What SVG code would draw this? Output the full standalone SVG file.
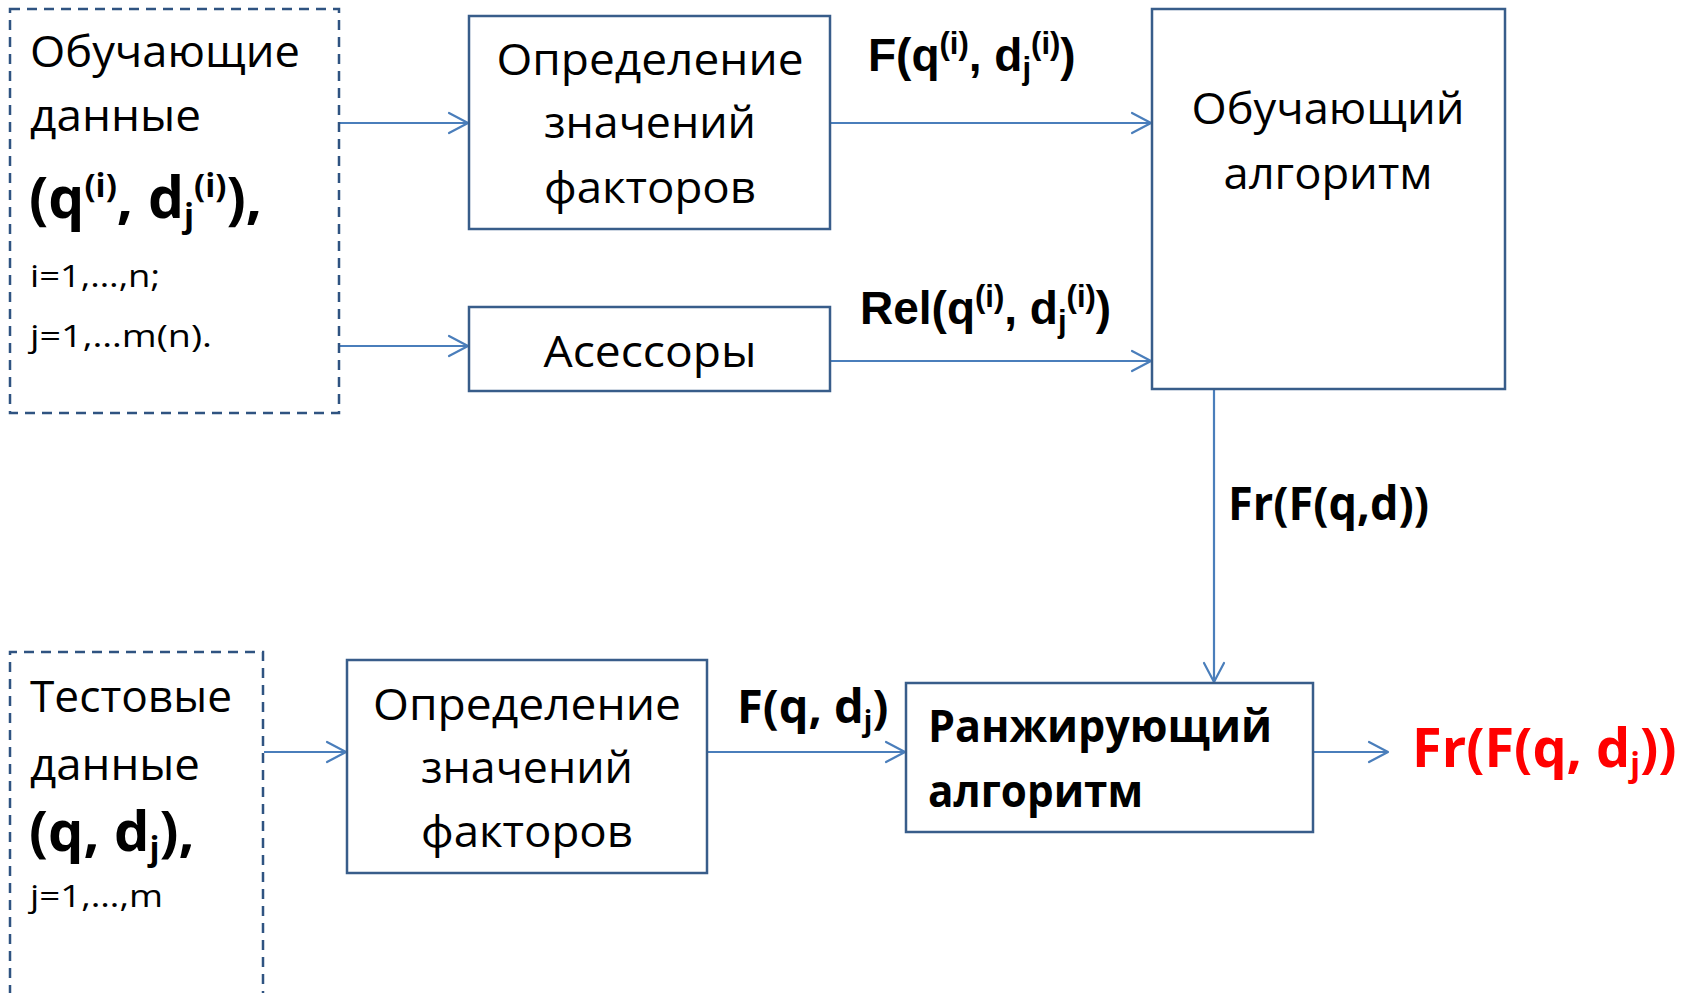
<svg xmlns="http://www.w3.org/2000/svg" width="1692" height="993" viewBox="0 0 1692 993">
<style>
.box{fill:#fff;stroke:#385D8A;stroke-width:2.5}
.dash{fill:none;stroke:#2F5381;stroke-width:2.5;stroke-dasharray:10 7}
.conn{fill:none;stroke:#4A7EBB;stroke-width:2.2}
.r{font-family:"Open Sans","Noto Sans","Liberation Sans",sans-serif;font-size:44px;fill:#000}
.s{font-family:"Open Sans","Noto Sans","Liberation Sans",sans-serif;font-size:31px;fill:#000}
.b{font-family:"Open Sans","Noto Sans","Liberation Sans",sans-serif;font-weight:bold;fill:#000}
.a{font-family:"Liberation Sans",Arial,sans-serif;font-weight:bold;font-size:46px;fill:#000}
.m{text-anchor:middle}
</style>
<defs>
<marker id="ah" viewBox="-22 -12 24 24" refX="0" refY="0" markerWidth="24" markerHeight="24" markerUnits="userSpaceOnUse" orient="auto">
<path d="M -19 -10 L 0 0 L -19 10" fill="none" stroke="#4A7EBB" stroke-width="2.2" stroke-linejoin="round" stroke-linecap="round"/>
</marker>
</defs>
<rect width="1692" height="993" fill="#fff"/>

<g id="connectors">
<line class="conn" x1="340" y1="123" x2="468" y2="123" marker-end="url(#ah)"/>
<line class="conn" x1="340" y1="346" x2="468" y2="346" marker-end="url(#ah)"/>
<line class="conn" x1="830" y1="123" x2="1151" y2="123" marker-end="url(#ah)"/>
<line class="conn" x1="830" y1="361" x2="1151" y2="361" marker-end="url(#ah)"/>
<line class="conn" x1="1214" y1="390" x2="1214" y2="682" marker-end="url(#ah)"/>
<line class="conn" x1="264" y1="752" x2="346" y2="752" marker-end="url(#ah)"/>
<line class="conn" x1="707" y1="752" x2="905" y2="752" marker-end="url(#ah)"/>
<line class="conn" x1="1313" y1="752" x2="1388" y2="752" marker-end="url(#ah)"/>
</g>

<g id="train-data">
<rect class="dash" x="10" y="9" width="329" height="404"/>
<text class="r" x="30" y="67" textLength="270" lengthAdjust="spacingAndGlyphs">Обучающие</text>
<text class="r" x="30" y="131" textLength="171" lengthAdjust="spacingAndGlyphs">данные</text>
<text class="b" x="29" y="218" font-size="57">(q<tspan font-size="33" dy="-21">(i)</tspan><tspan dy="21">, d</tspan><tspan font-size="33" dy="9">j</tspan><tspan font-size="33" dy="-30">(i)</tspan><tspan dy="21">),</tspan></text>
<text class="s" x="30" y="287" textLength="130" lengthAdjust="spacingAndGlyphs">i=1,…,n;</text>
<text class="s" x="30" y="347" textLength="182" lengthAdjust="spacingAndGlyphs">j=1,…m(n).</text>
</g>

<g id="factors-1">
<rect class="box" x="469" y="16" width="361" height="213"/>
<text class="r m" x="650" y="75" textLength="307" lengthAdjust="spacingAndGlyphs">Определение</text>
<text class="r m" x="650" y="138" textLength="212" lengthAdjust="spacingAndGlyphs">значений</text>
<text class="r m" x="650" y="203" textLength="212" lengthAdjust="spacingAndGlyphs">факторов</text>
</g>

<g id="assessors">
<rect class="box" x="469" y="307" width="361" height="84"/>
<text class="r m" x="650" y="367" textLength="213" lengthAdjust="spacingAndGlyphs">Асессоры</text>
</g>

<g id="learning-algo">
<rect class="box" x="1152" y="9" width="353" height="380"/>
<text class="r m" x="1328" y="124" textLength="273" lengthAdjust="spacingAndGlyphs">Обучающий</text>
<text class="r m" x="1328" y="189" textLength="209" lengthAdjust="spacingAndGlyphs">алгоритм</text>
</g>

<g id="test-data">
<path class="dash" d="M 10 995 L 10 652 L 263 652 L 263 995"/>
<text class="r" x="30" y="712" textLength="202" lengthAdjust="spacingAndGlyphs">Тестовые</text>
<text class="r" x="30" y="780" textLength="170" lengthAdjust="spacingAndGlyphs">данные</text>
<text class="b" x="29" y="851" font-size="56">(q, d<tspan font-size="33" dy="9">j</tspan><tspan dy="-9">),</tspan></text>
<text class="s" x="30" y="907" textLength="133" lengthAdjust="spacingAndGlyphs">j=1,…,m</text>
</g>

<g id="factors-2">
<rect class="box" x="347" y="660" width="360" height="213"/>
<text class="r m" x="527" y="720" textLength="308" lengthAdjust="spacingAndGlyphs">Определение</text>
<text class="r m" x="527" y="783" textLength="212" lengthAdjust="spacingAndGlyphs">значений</text>
<text class="r m" x="527" y="847" textLength="212" lengthAdjust="spacingAndGlyphs">факторов</text>
</g>

<g id="ranking-algo">
<rect class="box" x="906" y="683" width="407" height="149"/>
<text class="b" x="928" y="742" font-size="45" textLength="344" lengthAdjust="spacingAndGlyphs">Ранжирующий</text>
<text class="b" x="928" y="807" font-size="45" textLength="215" lengthAdjust="spacingAndGlyphs">алгоритм</text>
</g>

<g id="labels">
<text class="a" x="868" y="71">F(q<tspan font-size="31" dy="-17">(i)</tspan><tspan dy="17">, d</tspan><tspan font-size="31" dy="8">j</tspan><tspan font-size="31" dy="-25">(i)</tspan><tspan dy="17">)</tspan></text>
<text class="a" x="860" y="324">Rel(q<tspan font-size="31" dy="-17">(i)</tspan><tspan dy="17">, d</tspan><tspan font-size="31" dy="8">j</tspan><tspan font-size="31" dy="-25">(i)</tspan><tspan dy="17">)</tspan></text>
<text class="b" x="1228" y="520" font-size="46" textLength="201" lengthAdjust="spacingAndGlyphs">Fr(F(q,d))</text>
<text class="b" x="737" y="723" font-size="47">F(q, d<tspan font-size="28" dy="8">j</tspan><tspan dy="-8">)</tspan></text>
<text class="b" x="1412" y="767" font-size="54" fill="#FF0000" style="fill:#FF0000">Fr(F(q, d<tspan font-size="32" dy="9">j</tspan><tspan dy="-9">))</tspan></text>
</g>
</svg>
